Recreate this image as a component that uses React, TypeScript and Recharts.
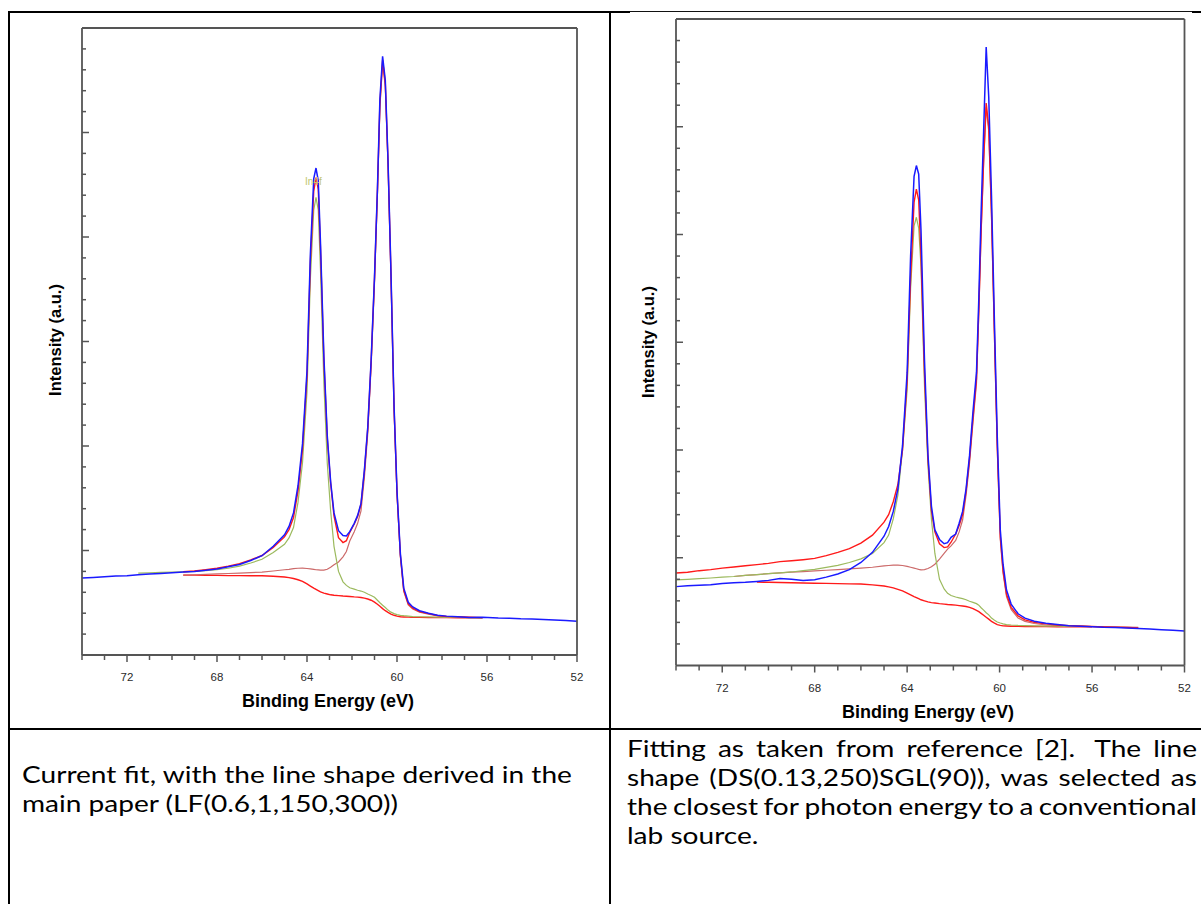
import { LineChart, Line, XAxis, YAxis } from "recharts"

const leftEnergy = [
  74, 73.5, 73, 72.5, 72, 71.5, 71, 70.5, 70, 69.5,
  69, 68.5, 68, 67.5, 67, 66.5, 66, 65.5, 65, 64.8,
  64.6, 64.4, 64.2, 64.0, 63.85, 63.7, 63.6, 63.5, 63.4, 63.25,
  63.1, 62.95, 62.8, 62.6, 62.4, 62.25, 62.1, 61.9, 61.75, 61.6,
  61.45, 61.3, 61.15, 61.0, 60.87, 60.76, 60.64, 60.52, 60.4, 60.27,
  60.13, 60.0, 59.85, 59.7, 59.5, 59.3, 59.0, 58.6, 58.2, 57.8,
  57.3, 56.8, 56.2, 55.5, 55, 54.5, 54, 53.5, 53, 52.5, 52,
]
const leftMeasured = [
  3.68, 3.71, 3.74, 3.78, 3.79, 3.84, 3.87, 3.9, 3.94, 3.97,
  4.0, 4.05, 4.12, 4.22, 4.33, 4.52, 4.75, 5.2, 5.75, 6.15,
  6.8, 8.1, 10.1, 13.6, 19.2, 22.8, 23.3, 22.7, 19.7, 14.3,
  10.5, 8.3, 6.8, 5.95, 5.72, 5.7, 5.9, 6.3, 6.68, 7.25,
  8.85, 10.9, 14.1, 18.1, 22.3, 26.6, 28.65, 27.5, 23.7, 18.4,
  11.9, 7.85, 4.85, 3.2, 2.52, 2.3, 2.12, 2.0, 1.9, 1.86,
  1.83, 1.8, 1.81, 1.77, 1.76, 1.73, 1.72, 1.7, 1.67, 1.65, 1.62,
]
const leftEnvelope = [
  null, null, null, null, null, null, null, null, null, 3.98,
  4.02, 4.08, 4.15, 4.25, 4.37, 4.55, 4.76, 5.15, 5.65, 6.0,
  6.57, 7.85, 9.84, 13.34, 18.82, 22.2, 22.84, 22.29, 19.44, 14.1,
  10.38, 8.22, 6.66, 5.61, 5.38, 5.47, 5.87, 6.27, 6.63, 7.21,
  8.78, 10.84, 14.03, 18.03, 22.19, 26.37, 28.46, 27.35, 23.61, 18.29,
  11.78, 7.77, 4.77, 3.11, 2.45, 2.24, 2.08, 1.98, 1.89, 1.84,
  1.83, 1.81, 1.79, null, null, null, null, null, null, null, null,
]
const leftPeak4f52 = [
  null, null, null, null, null, 3.92, 3.93, 3.95, 3.97, 3.98,
  4.0, 4.03, 4.08, 4.15, 4.25, 4.4, 4.58, 4.9, 5.3, 5.6,
  6.1, 7.3, 9.2, 12.6, 18.0, 21.3, 21.9, 21.3, 18.4, 13.0,
  9.2, 6.9, 5.2, 4.0, 3.5, 3.33, 3.22, 3.15, 3.1, 3.06,
  3.0, 2.92, 2.85, 2.76, 2.62, 2.5, 2.38, 2.27, 2.15, 2.05,
  1.98, 1.93, 1.9, 1.88, 1.86, 1.84, 1.83, 1.82, 1.81, 1.8,
  1.8, 1.79, 1.78, null, null, null, null, null, null, null, null,
]
const leftPeak4f72 = [
  null, null, null, null, null, null, null, null, null, 3.82,
  3.84, 3.86, 3.88, 3.9, 3.92, 3.94, 3.97, 4.02, 4.08, 4.1,
  4.13, 4.15, 4.16, 4.14, 4.12, 4.1, 4.08, 4.07, 4.06, 4.06,
  4.1, 4.2, 4.32, 4.45, 4.7, 4.95, 5.45, 5.9, 6.3, 6.9,
  8.5, 10.6, 13.8, 17.8, 22.0, 26.2, 28.3, 27.2, 23.5, 18.2,
  11.7, 7.7, 4.7, 3.05, 2.4, 2.2, 2.05, 1.95, 1.87, 1.83,
  1.81, 1.8, 1.79, null, null, null, null, null, null, null, null,
]
const leftBackground = [
  null, null, null, null, null, null, null, null, null, 3.82,
  3.82, 3.81, 3.81, 3.8, 3.8, 3.79, 3.79, 3.77, 3.73, 3.7,
  3.66, 3.6, 3.52, 3.4, 3.3, 3.2, 3.14, 3.08, 3.02, 2.96,
  2.92, 2.88, 2.86, 2.84, 2.82, 2.81, 2.8, 2.78, 2.77, 2.75,
  2.72, 2.68, 2.62, 2.53, 2.43, 2.33, 2.22, 2.12, 2.04, 1.96,
  1.9, 1.86, 1.83, 1.82, 1.81, 1.8, 1.8, 1.79, 1.79, 1.79,
  1.78, 1.78, 1.78, null, null, null, null, null, null, null, null,
]

const rightEnergy = [
  74, 73.5, 73, 72.5, 72, 71.5, 71, 70.5, 70, 69.5,
  69, 68.5, 68, 67.5, 67, 66.5, 66, 65.5, 65, 64.8,
  64.6, 64.4, 64.2, 64.0, 63.85, 63.7, 63.6, 63.5, 63.4, 63.25,
  63.1, 62.95, 62.8, 62.6, 62.4, 62.25, 62.1, 61.9, 61.75, 61.6,
  61.45, 61.3, 61.15, 61.0, 60.9, 60.8, 60.69, 60.58, 60.47, 60.35,
  60.22, 60.1, 59.97, 59.85, 59.7, 59.5, 59.2, 58.9, 58.5, 58.0,
  57.5, 57.0, 56.5, 56.0, 55.5, 55, 54.5, 54, 53.5, 53, 52.5, 52,
]
const rightMeasured = [
  3.66, 3.7, 3.72, 3.75, 3.8, 3.84, 3.86, 3.9, 3.95, 4.04,
  4.0, 3.95, 3.98, 4.1, 4.25, 4.45, 4.78, 5.25, 6.0, 6.45,
  7.15, 8.2, 10.2, 13.6, 19.0, 22.7, 23.2, 22.8, 20.2, 14.2,
  9.8, 7.4, 6.3, 5.85, 5.65, 5.7, 5.95, 6.1, 6.6, 7.15,
  8.2, 9.75, 11.8, 13.6, 17.0, 21.0, 24.8, 28.7, 26.4, 21.8,
  15.8, 10.6, 6.3, 4.7, 3.5, 2.85, 2.4, 2.2, 2.05, 1.96,
  1.9, 1.85, 1.82, 1.8, 1.77, 1.76, 1.74, 1.72, 1.69, 1.66, 1.64, 1.6,
]
const rightEnvelope = [
  4.29, 4.33, 4.4, 4.45, 4.52, 4.57, 4.63, 4.68, 4.74, 4.82,
  4.86, 4.91, 4.97, 5.1, 5.25, 5.42, 5.68, 6.05, 6.65, 7.0,
  7.6, 8.4, 10.0, 13.2, 18.0, 21.5, 22.1, 21.6, 19.0, 13.6,
  9.6, 7.2, 6.2, 5.65, 5.47, 5.5, 5.72, 6.1, 6.5, 7.0,
  8.1, 9.6, 11.5, 13.3, 16.5, 20.2, 23.5, 26.1, 25.0, 21.0,
  15.3, 10.2, 6.0, 4.4, 3.3, 2.7, 2.3, 2.12, 2.0, 1.93,
  1.88, 1.85, 1.83, 1.81, 1.79, 1.78, 1.76, 1.74, null, null, null, null,
]
const rightPeak4f52 = [
  3.97, 4.0, 4.03, 4.06, 4.1, 4.13, 4.18, 4.22, 4.26, 4.3,
  4.34, 4.4, 4.46, 4.55, 4.65, 4.78, 4.95, 5.2, 5.7, 6.05,
  6.8, 7.9, 10.0, 12.8, 17.5, 20.4, 20.8, 20.3, 18.5, 13.0,
  9.3, 6.8, 5.2, 4.0, 3.55, 3.35, 3.25, 3.18, 3.14, 3.1,
  3.05, 2.98, 2.93, 2.87, 2.8, 2.68, 2.57, 2.45, 2.35, 2.2,
  2.1, 2.02, 1.97, 1.93, 1.9, 1.88, 1.86, 1.85, 1.84, 1.83,
  1.83, 1.82, 1.82, 1.81, null, null, null, null, null, null, null, null,
]
const rightPeak4f72 = [
  null, null, null, null, null, 4.13, 4.18, 4.22, 4.26, 4.3,
  4.33, 4.36, 4.39, 4.42, 4.45, 4.48, 4.52, 4.56, 4.62, 4.64,
  4.66, 4.66, 4.64, 4.6, 4.56, 4.52, 4.49, 4.46, 4.44, 4.45,
  4.5, 4.58, 4.7, 4.94, 5.2, 5.4, 5.55, 5.8, 6.2, 6.75,
  7.9, 9.4, 11.3, 13.1, 16.3, 20.0, 23.3, 25.9, 24.8, 20.8,
  15.1, 10.0, 5.85, 4.3, 3.2, 2.6, 2.2, 2.05, 1.95, 1.88,
  1.85, 1.83, 1.82, 1.81, 1.8, 1.79, 1.78, 1.77, null, null, null, null,
]
const rightBackground = [
  null, null, null, null, null, null, null, 3.87, 3.86, 3.85,
  3.84, 3.83, 3.82, 3.81, 3.8, 3.79, 3.78, 3.74, 3.69, 3.65,
  3.6, 3.53, 3.46, 3.36, 3.28, 3.2, 3.15, 3.1, 3.05, 3.0,
  2.95, 2.92, 2.9, 2.87, 2.85, 2.83, 2.82, 2.8, 2.78, 2.76,
  2.74, 2.7, 2.64, 2.56, 2.5, 2.42, 2.33, 2.24, 2.15, 2.05,
  1.97, 1.9, 1.86, 1.84, 1.83, 1.82, 1.82, 1.81, 1.81, 1.81,
  1.8, 1.8, 1.8, 1.8, null, null, null, null, null, null, null, null,
]

const energyTicks = [74, 73, 72, 71, 70, 69, 68, 67, 66, 65, 64, 63, 62, 61, 60, 59, 58, 57, 56, 55, 54, 53, 52]
const energyLabels = [72, 68, 64, 60, 56, 52]
const intensityTicks = [
  0, 1, 2, 3, 4, 5, 6, 7, 8, 9, 10, 11, 12, 13, 14, 15,
  16, 17, 18, 19, 20, 21, 22, 23, 24, 25, 26, 27, 28, 29, 30,
]

const leftCaption = ["Current fit, with the line shape derived in the", "main paper (LF(0.6,1,150,300))"]
const rightCaption = [
  ["Fitting", "as", "taken", "from", "reference", "[2].\u00a0", "The", "line"],
  ["shape", "(DS(0.13,250)SGL(90)),", "was", "selected", "as"],
  ["the", "closest", "for", "photon", "energy", "to", "a", "conventional"],
]
const rightCaptionLast = "lab source."

const FRAME = "#555"
const SANS = "'Liberation Sans', Arial, sans-serif"
const STRETCH = 1.22

function buildRows(
  energy: number[],
  measured: (number | null)[],
  envelope: (number | null)[],
  p52: (number | null)[],
  p72: (number | null)[],
  bg: (number | null)[]
) {
  return energy.map((e, i) => ({
    energy: e,
    measured: measured[i],
    envelope: envelope[i],
    p52: p52[i],
    p72: p72[i],
    bg: bg[i],
  }))
}

const EnergyTick = (props: any) => {
  const { x, y, payload } = props
  const labelled = energyLabels.includes(payload.value)
  return (
    <g>
      <line x1={x} x2={x} y1={y} y2={y + (labelled ? 7 : 5)} stroke={FRAME} strokeWidth={1.5} />
      {labelled && (
        <text x={x} y={y + 26} textAnchor="middle" fontSize={11.5} fill="#2a2a2a" fontFamily={SANS}>
          {payload.value}
        </text>
      )}
    </g>
  )
}

const makeIntensityTick = (side: "left" | "right") => (props: any) => {
  const { x, y, payload } = props
  const len = payload.value % 5 === 0 ? 7 : 4
  if (payload.value === 0 || payload.value === 30) return <g />
  return (
    <line
      x1={x}
      x2={side === "left" ? x + len : x - len}
      y1={y}
      y2={y}
      stroke={FRAME}
      strokeWidth={1.5}
    />
  )
}

interface PanelProps {
  rows: Record<string, any>[]
  left: number
  top: number
  width: number
  height: number
  margin: { top: number; right: number; bottom: number; left: number }
}

function SpectrumPanel({ rows, left, top, width, height, margin }: PanelProps) {
  return (
    <div style={{ position: "absolute", left, top }}>
      <LineChart width={width} height={height} data={rows} margin={margin}>
        <XAxis
          dataKey="energy"
          type="number"
          domain={[52, 74]}
          reversed
          ticks={energyTicks}
          interval={0}
          height={1}
          tickSize={0}
          tickMargin={0}
          tickLine={false}
          tick={EnergyTick}
          axisLine={{ stroke: FRAME, strokeWidth: 1.8 }}
        />
        <XAxis
          xAxisId="top"
          orientation="top"
          dataKey="energy"
          type="number"
          domain={[52, 74]}
          reversed
          height={1}
          tick={false}
          tickLine={false}
          axisLine={{ stroke: FRAME, strokeWidth: 1.8 }}
        />
        <YAxis
          yAxisId="l"
          type="number"
          domain={[0, 30]}
          ticks={intensityTicks}
          interval={0}
          width={1}
          tickSize={0}
          tickMargin={0}
          tickLine={false}
          tick={makeIntensityTick("left")}
          axisLine={{ stroke: FRAME, strokeWidth: 1.8 }}
        />
        <YAxis
          yAxisId="r"
          orientation="right"
          type="number"
          domain={[0, 30]}
          ticks={intensityTicks}
          interval={0}
          width={1}
          tickSize={0}
          tickMargin={0}
          tickLine={false}
          tick={makeIntensityTick("right")}
          axisLine={{ stroke: FRAME, strokeWidth: 1.8 }}
        />

        <Line yAxisId="l" type="linear" dataKey="bg" stroke="#ff1a1a" strokeWidth={1.4} dot={false} isAnimationActive={false} />
        <Line yAxisId="l" type="linear" dataKey="p72" stroke="#cc6a6a" strokeWidth={1.2} dot={false} isAnimationActive={false} />
        <Line yAxisId="l" type="linear" dataKey="p52" stroke="#9cba5e" strokeWidth={1.2} dot={false} isAnimationActive={false} />
        <Line yAxisId="l" type="linear" dataKey="envelope" stroke="#ff1a1a" strokeWidth={1.4} dot={false} isAnimationActive={false} />
        <Line yAxisId="l" type="linear" dataKey="measured" stroke="#1a1aff" strokeWidth={1.5} dot={false} isAnimationActive={false} />
      </LineChart>
    </div>
  )
}

const cellText: React.CSSProperties = {
  position: "absolute",
  fontFamily: "Lato, 'Open Sans', sans-serif",
  fontSize: 23,
  lineHeight: "29px",
  color: "#000",
  whiteSpace: "nowrap",
  transform: `scaleX(${STRETCH})`,
  transformOrigin: "left center",
}

const xTitle: React.CSSProperties = {
  position: "absolute",
  fontFamily: SANS,
  fontWeight: "bold",
  fontSize: 18,
  color: "#000",
  transform: "translate(-50%, -50%)",
  whiteSpace: "nowrap",
}

const yTitle: React.CSSProperties = {
  position: "absolute",
  fontFamily: SANS,
  fontWeight: "bold",
  fontSize: 16.5,
  color: "#000",
  transform: "translate(-50%, -50%) rotate(-90deg)",
  whiteSpace: "nowrap",
}

export default function App() {
  const leftRows = buildRows(leftEnergy, leftMeasured, leftEnvelope, leftPeak4f52, leftPeak4f72, leftBackground)
  const rightRows = buildRows(rightEnergy, rightMeasured, rightEnvelope, rightPeak4f52, rightPeak4f72, rightBackground)

  return (
    <div style={{ position: "absolute", left: 0, top: 0, width: 1201, height: 904, background: "#fff", overflow: "hidden" }}>
      {/* table rules */}
      <div style={{ position: "absolute", left: 8, top: 11, width: 622, height: 2, background: "#000" }} />
      <div style={{ position: "absolute", left: 630, top: 11, width: 562, height: 1, background: "#111" }} />
      <div style={{ position: "absolute", left: 1192, top: 11, width: 9, height: 2, background: "#000" }} />
      <div style={{ position: "absolute", left: 8, top: 11, width: 2, height: 893, background: "#000" }} />
      <div style={{ position: "absolute", left: 609, top: 11, width: 2, height: 893, background: "#000" }} />
      <div style={{ position: "absolute", left: 8, top: 728, width: 1193, height: 2, background: "#000" }} />

      <SpectrumPanel
        rows={leftRows}
        left={20}
        top={10}
        width={580}
        height={710}
        margin={{ top: 17, right: 22, bottom: 64, left: 61 }}
      />
      <SpectrumPanel
        rows={rightRows}
        left={615}
        top={5}
        width={585}
        height={720}
        margin={{ top: 13, right: 14.5, bottom: 58.5, left: 60 }}
      />

      <div style={{ position: "absolute", left: 305, top: 176, fontFamily: SANS, fontSize: 10, color: "#c2c66e" }}>In4f</div>

      <div style={{ ...xTitle, left: 328, top: 701 }}>Binding Energy (eV)</div>
      <div style={{ ...xTitle, left: 928, top: 712 }}>Binding Energy (eV)</div>
      <div style={{ ...yTitle, left: 55, top: 340 }}>Intensity (a.u.)</div>
      <div style={{ ...yTitle, left: 648, top: 342 }}>Intensity (a.u.)</div>

      {leftCaption.map((line, i) => (
        <div key={line} style={{ ...cellText, left: 22, top: 760 + i * 29 }}>{line}</div>
      ))}

      {rightCaption.map((words, i) => (
        <div
          key={i}
          style={{
            ...cellText,
            left: 627,
            top: 734 + i * 29,
            width: 570 / STRETCH,
            display: "flex",
            justifyContent: "space-between",
          }}
        >
          {words.map((w, j) => (
            <span key={j}>{w}</span>
          ))}
        </div>
      ))}
      <div style={{ ...cellText, left: 627, top: 734 + 3 * 29 }}>{rightCaptionLast}</div>
    </div>
  )
}
